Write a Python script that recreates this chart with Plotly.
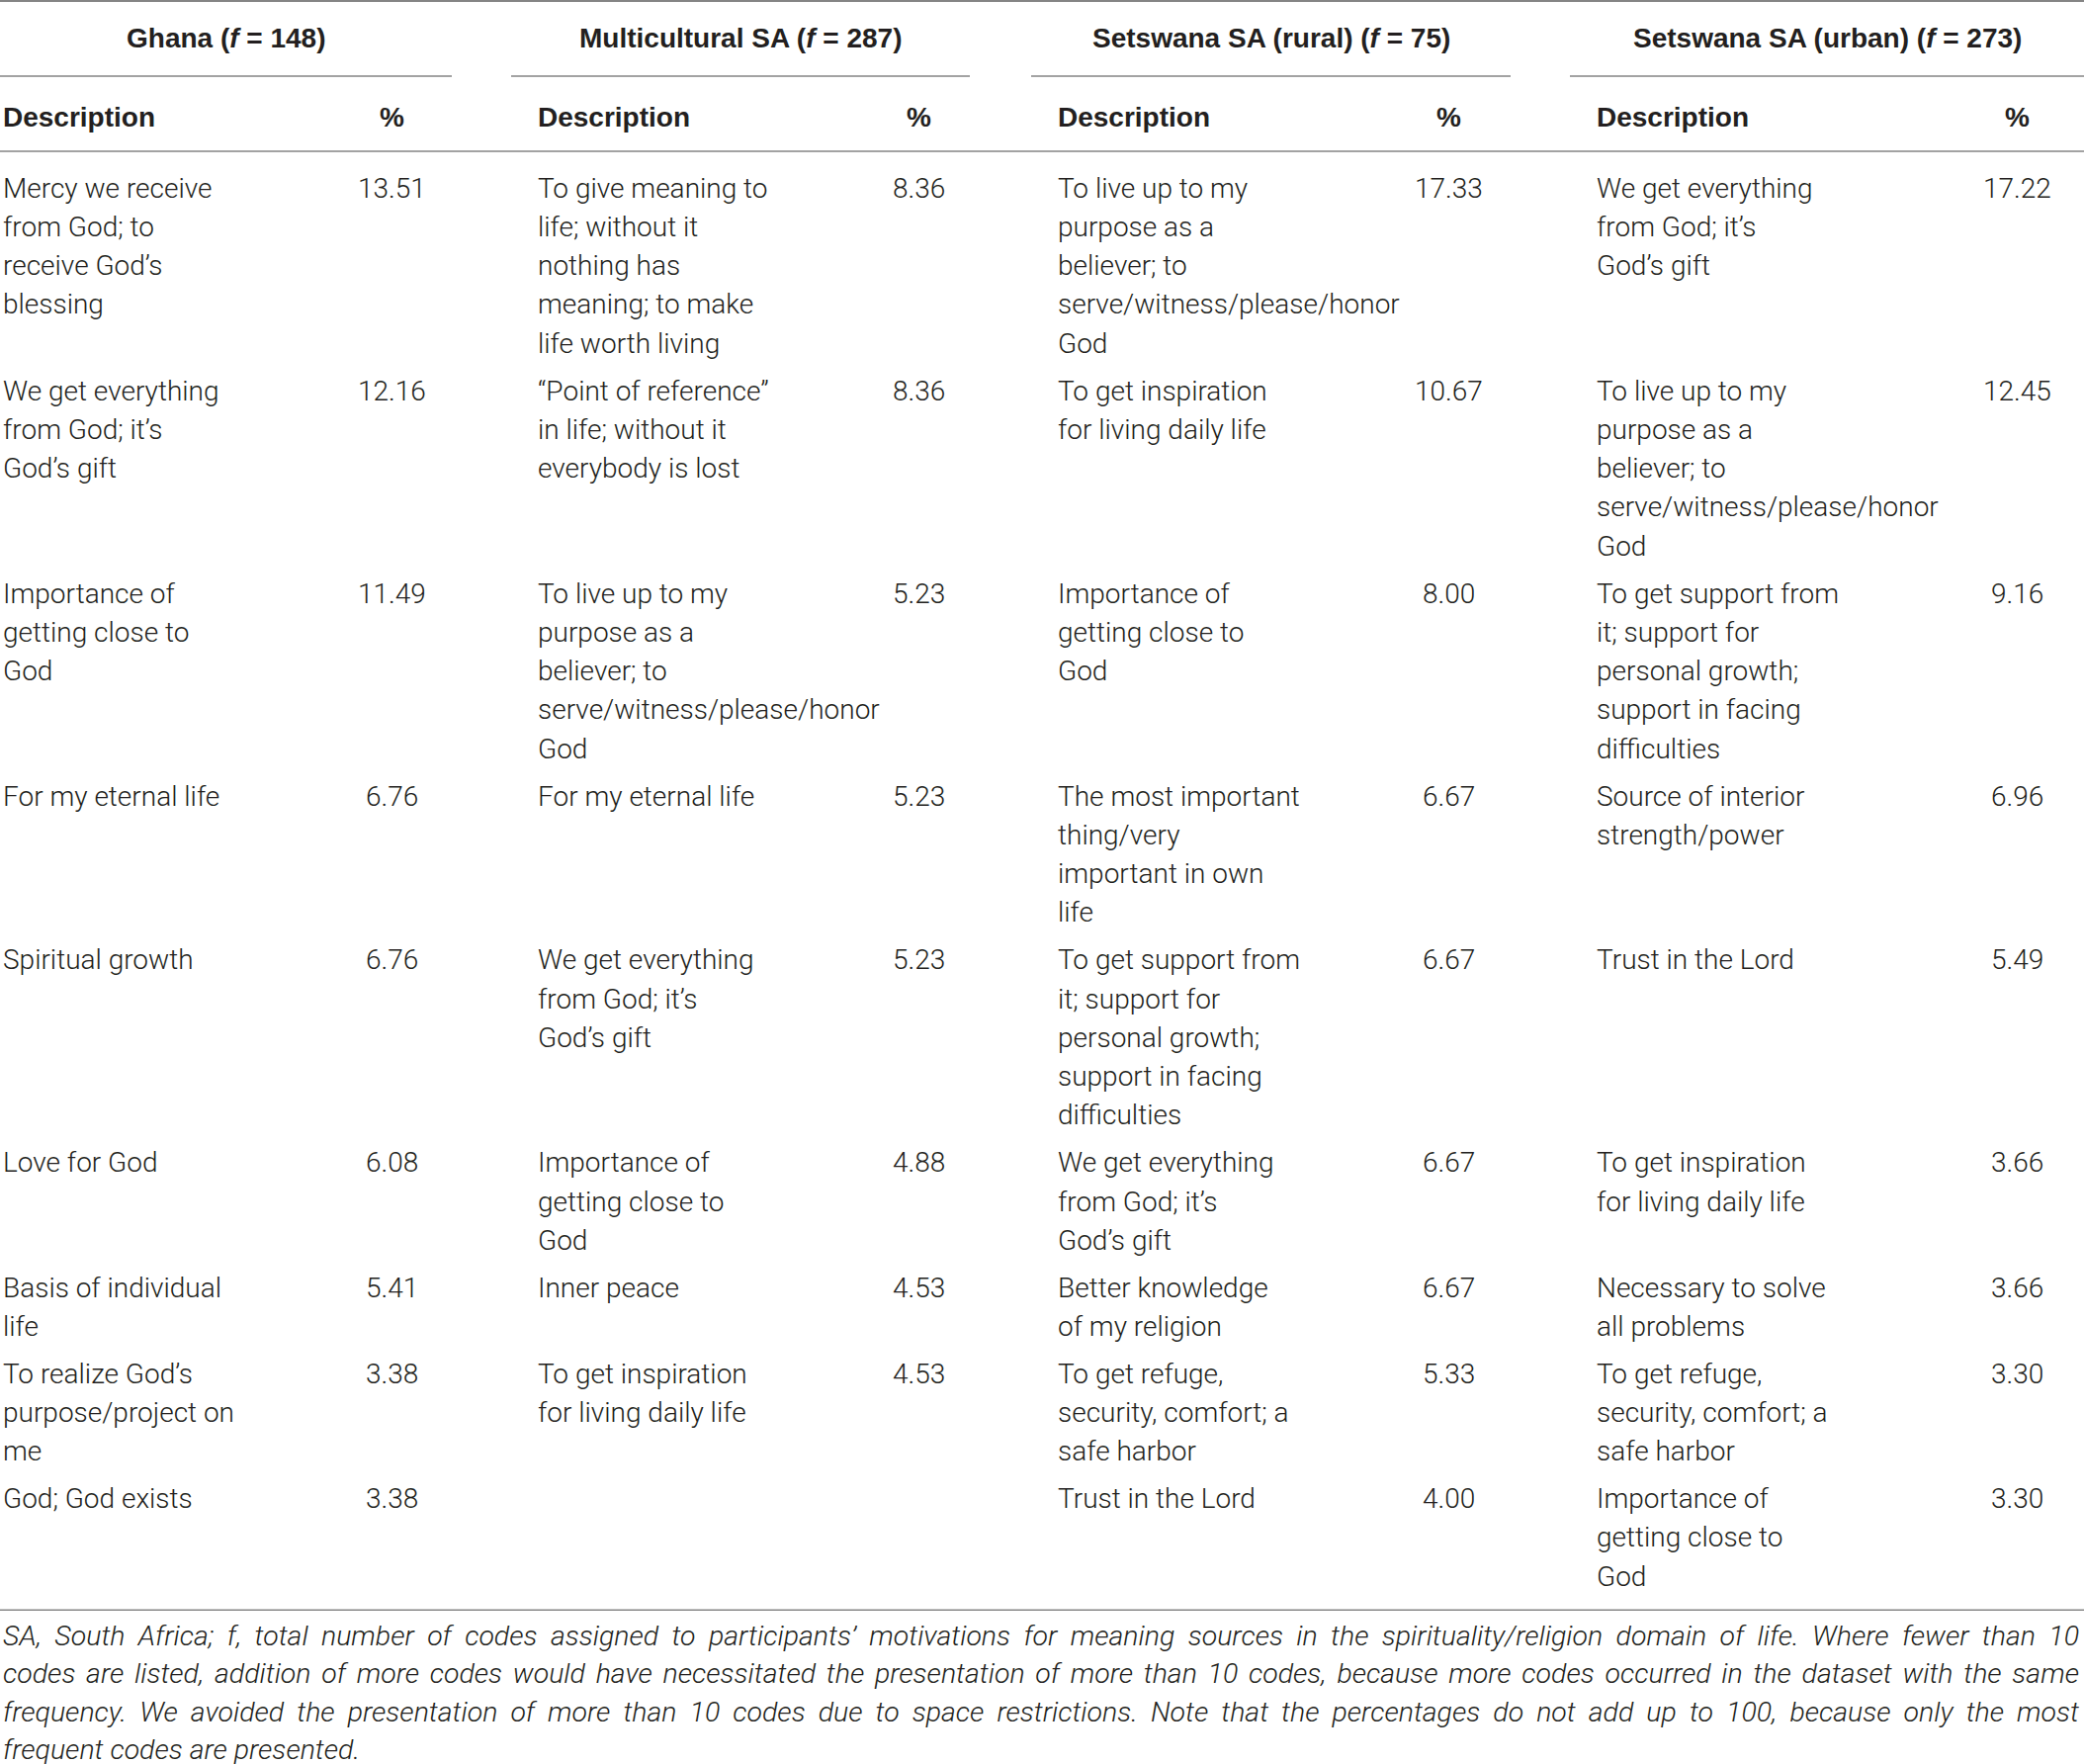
import plotly.graph_objects as go

# ---- data ----
groups = ["Ghana", "Multicultural SA", "Setswana SA (rural)", "Setswana SA (urban)"]
group_f = [148, 287, 75, 273]

ghana_desc = [
    "Mercy we receive\nfrom God; to\nreceive God’s\nblessing",
    "We get everything\nfrom God; it’s\nGod’s gift",
    "Importance of\ngetting close to\nGod",
    "For my eternal life",
    "Spiritual growth",
    "Love for God",
    "Basis of individual\nlife",
    "To realize God’s\npurpose/project on\nme",
    "God; God exists",
]
ghana_pct = [13.51, 12.16, 11.49, 6.76, 6.76, 6.08, 5.41, 3.38, 3.38]

multi_desc = [
    "To give meaning to\nlife; without it\nnothing has\nmeaning; to make\nlife worth living",
    "“Point of reference”\nin life; without it\neverybody is lost",
    "To live up to my\npurpose as a\nbeliever; to\nserve/witness/please/honor\nGod",
    "For my eternal life",
    "We get everything\nfrom God; it’s\nGod’s gift",
    "Importance of\ngetting close to\nGod",
    "Inner peace",
    "To get inspiration\nfor living daily life",
]
multi_pct = [8.36, 8.36, 5.23, 5.23, 5.23, 4.88, 4.53, 4.53]

rural_desc = [
    "To live up to my\npurpose as a\nbeliever; to\nserve/witness/please/honor\nGod",
    "To get inspiration\nfor living daily life",
    "Importance of\ngetting close to\nGod",
    "The most important\nthing/very\nimportant in own\nlife",
    "To get support from\nit; support for\npersonal growth;\nsupport in facing\ndifficulties",
    "We get everything\nfrom God; it’s\nGod’s gift",
    "Better knowledge\nof my religion",
    "To get refuge,\nsecurity, comfort; a\nsafe harbor",
    "Trust in the Lord",
]
rural_pct = [17.33, 10.67, 8.00, 6.67, 6.67, 6.67, 6.67, 5.33, 4.00]

urban_desc = [
    "We get everything\nfrom God; it’s\nGod’s gift",
    "To live up to my\npurpose as a\nbeliever; to\nserve/witness/please/honor\nGod",
    "To get support from\nit; support for\npersonal growth;\nsupport in facing\ndifficulties",
    "Source of interior\nstrength/power",
    "Trust in the Lord",
    "To get inspiration\nfor living daily life",
    "Necessary to solve\nall problems",
    "To get refuge,\nsecurity, comfort; a\nsafe harbor",
    "Importance of\ngetting close to\nGod",
]
urban_pct = [17.22, 12.45, 9.16, 6.96, 5.49, 3.66, 3.66, 3.30, 3.30]

footnote = [
    "SA, South Africa; f, total number of codes assigned to participants’ motivations for meaning sources in the spirituality/religion domain of life. Where fewer than 10",
    "codes are listed, addition of more codes would have necessitated the presentation of more than 10 codes, because more codes occurred in the dataset with the same",
    "frequency. We avoided the presentation of more than 10 codes due to space restrictions. Note that the percentages do not add up to 100, because only the most",
    "frequent codes are presented.",
]

descs = [ghana_desc, multi_desc, rural_desc, urban_desc]
pcts = [ghana_pct, multi_pct, rural_pct, urban_pct]

# ---- layout ----
W, H = 2108, 1784
TXT = "#231f20"
RULE = "#858585"
spans = [(0, 457), (517, 981), (1043, 1528), (1588, 2108)]
desc_x = [2, 543, 1069, 1614]
pct_x = [396, 929, 1465, 2040]
pitch, gap = 39.3, 8.5
first_y = 190

body_font = dict(family="Roboto", size=28, color=TXT, weight=300)
head_font = dict(family="Liberation Sans", size=28, color=TXT, weight="bold")
foot_font = dict(family="Roboto", size=28.5, color=TXT, weight=300, style="italic")

fig = go.Figure()
ann = []


def add_text(x, y, text, font, anchor="left"):
    ann.append(dict(x=x, y=y, xref="x", yref="y", text=text, showarrow=False,
                    xanchor=anchor, yanchor="middle", align="left" if anchor == "left" else "center",
                    font=font, borderpad=0))


# headers
for g, f, (a, b), dx, px in zip(groups, group_f, spans, desc_x, pct_x):
    add_text((a + b) / 2, 38, f"{g} (<i>f</i> = {f})", head_font, "center")
    add_text(dx, 118, "Description", head_font)
    add_text(px, 118, "%", head_font, "center")

# body rows
n_rows = max(len(d) for d in descs)
y = first_y
for r in range(n_rows):
    lines_here = 1
    for c in range(4):
        if r >= len(descs[c]):
            continue
        lines = descs[c][r].split("\n")
        lines_here = max(lines_here, len(lines))
        for j, ln in enumerate(lines):
            add_text(desc_x[c], y + j * pitch, ln, body_font)
        add_text(pct_x[c], y, f"{pcts[c][r]:.2f}", body_font, "center")
    y += lines_here * pitch + gap
bottom_rule = y - gap - pitch + 34

# footnote
for i, ln in enumerate(footnote):
    add_text(2, bottom_rule + 26 + i * 38.5, ln, foot_font)

shapes = [dict(type="line", xref="x", yref="y", x0=0, x1=W, y0=1, y1=1,
               line=dict(color=RULE, width=2.2))]
for a, b in spans:
    shapes.append(dict(type="line", xref="x", yref="y", x0=a, x1=b, y0=77, y1=77,
                       line=dict(color=RULE, width=1.6)))
for yy in (153, bottom_rule):
    shapes.append(dict(type="line", xref="x", yref="y", x0=0, x1=W, y0=yy, y1=yy,
                       line=dict(color=RULE, width=1.6)))

fig.update_layout(
    width=W, height=H,
    margin=dict(l=0, r=0, t=0, b=0),
    paper_bgcolor="white", plot_bgcolor="white",
    xaxis=dict(range=[0, W], visible=False, fixedrange=True),
    yaxis=dict(range=[H, 0], visible=False, fixedrange=True),
    annotations=ann, shapes=shapes, showlegend=False,
)

# justify the long footnote lines to the full width, like the printed table
js = """
document.body.style.margin = '0';
document.querySelectorAll('.annotation-text').forEach(function (t) {
  var w = t.getComputedTextLength();
  if (w > 1500) {
    var n = (t.textContent.match(/ /g) || []).length;
    t.style.wordSpacing = ((2100 - w) / n) + 'px';
  }
});
"""
fig.write_html("out.html", config={"displayModeBar": False}, post_script=js)
